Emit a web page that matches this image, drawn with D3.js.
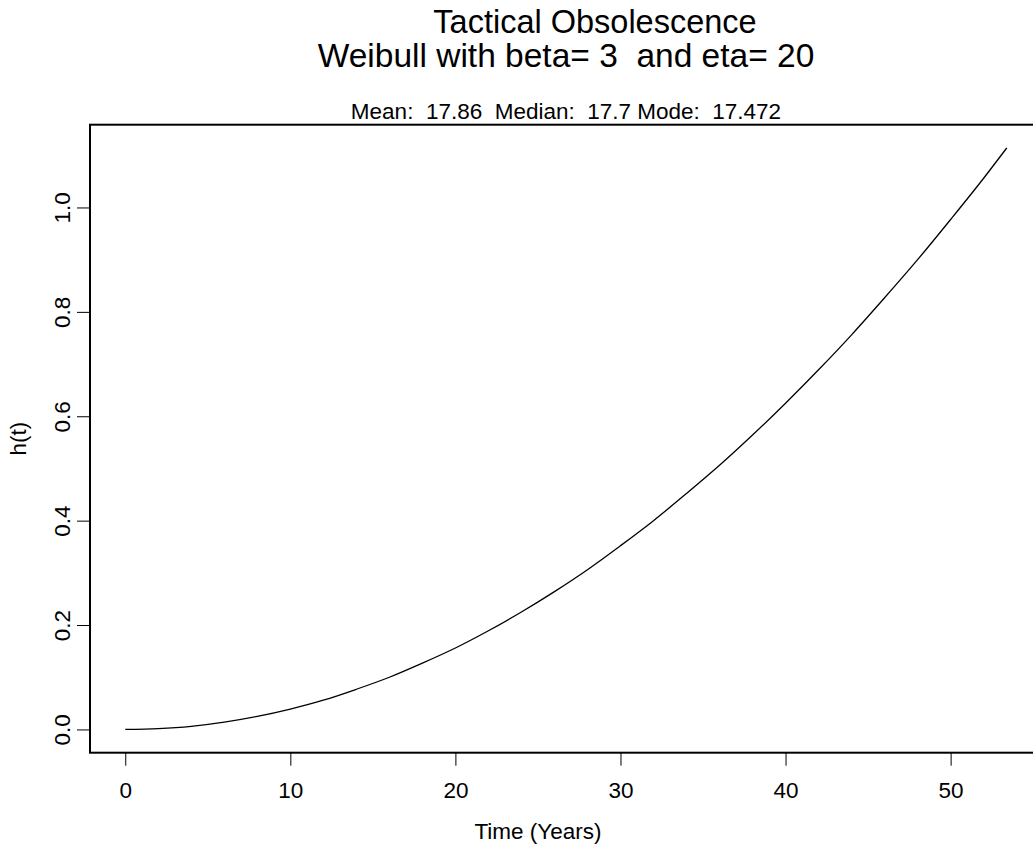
<!DOCTYPE html>
<html>
<head>
<meta charset="utf-8">
<script src="https://cdn.jsdelivr.net/npm/d3@7"></script>
<style>
  html, body { margin: 0; padding: 0; background: #fff; }
  svg { display: block; font-family: "Liberation Sans", Arial, Helvetica, sans-serif; }
  svg text { white-space: pre; }
</style>
</head>
<body>
<svg id="chart" width="1033" height="846"></svg>
<script>
// ---- data ----
const timeYears = [0, 2, 4, 6, 8, 10, 12, 14, 16, 18, 20, 22, 24, 26, 28, 30, 32, 34, 36, 38, 40, 42, 44, 46, 48, 50, 52, 53.4];
const hazard    = [0, 0.0016, 0.006, 0.014, 0.025, 0.039, 0.056, 0.077, 0.100, 0.127, 0.156, 0.189, 0.225, 0.264, 0.306, 0.352, 0.400, 0.452, 0.506, 0.564, 0.625, 0.689, 0.756, 0.827, 0.900, 0.977, 1.056, 1.114];
const xTicks = [0, 10, 20, 30, 40, 50];
const yTicks = [0.0, 0.2, 0.4, 0.6, 0.8, 1.0];
const titleLines = ["Tactical Obsolescence", "Weibull with beta= 3  and eta= 20"];
const subtitle = "Mean:  17.86  Median:  17.7 Mode:  17.472";
const xLabel = "Time (Years)";
const yLabel = "h(t)";

// ---- layout ----
const plot = { left: 90, right: 1042, top: 124.7, bottom: 752.7 };
const svg = d3.select("#chart");

const xMax = d3.max(timeYears), yMax = d3.max(hazard);
const x = d3.scaleLinear().domain([-0.04 * xMax, 1.04 * xMax]).range([plot.left, plot.right]);
const y = d3.scaleLinear().domain([-0.04 * yMax, 1.04 * yMax]).range([plot.bottom, plot.top]);

// curve
const pts = timeYears.map((t, i) => [t, hazard[i]]);
svg.append("path")
  .datum(pts)
  .attr("fill", "none")
  .attr("stroke", "#000")
  .attr("stroke-width", 1.3)
  .attr("d", d3.line().x(d => x(d[0])).y(d => y(d[1])).curve(d3.curveMonotoneX));

// box
svg.append("rect")
  .attr("x", plot.left).attr("y", plot.top)
  .attr("width", plot.right - plot.left).attr("height", plot.bottom - plot.top)
  .attr("fill", "none").attr("stroke", "#000").attr("stroke-width", 2);

// x axis
const xAxis = d3.axisBottom(x).tickValues(xTicks).tickSize(13).tickPadding(16).tickFormat(d3.format("d"));
const gx = svg.append("g").attr("transform", `translate(0,${plot.bottom})`).call(xAxis);
gx.select(".domain").remove();
gx.selectAll("line").attr("stroke", "#000").attr("stroke-width", 1);
gx.selectAll("text").attr("font-size", 22.5).attr("fill", "#000")
  .attr("font-family", "Liberation Sans, Arial, sans-serif");

// y axis
const yAxis = d3.axisLeft(y).tickValues(yTicks).tickSize(13).tickPadding(0).tickFormat(d3.format(".1f"));
const gy = svg.append("g").attr("transform", `translate(${plot.left},0)`).call(yAxis);
gy.select(".domain").remove();
gy.selectAll("line").attr("stroke", "#000").attr("stroke-width", 1);
gy.selectAll("text")
  .attr("font-size", 22.5).attr("fill", "#000")
  .attr("font-family", "Liberation Sans, Arial, sans-serif")
  .attr("x", null).attr("dy", null)
  .attr("text-anchor", "middle")
  .attr("transform", "translate(-20,0) rotate(-90)");

// axis titles
svg.append("text").attr("x", (x(0) + x(50)) / 2 + 0).attr("y", 839)
  .attr("text-anchor", "middle").attr("font-size", 22.5).text(xLabel);
svg.append("text")
  .attr("transform", `translate(26,${(plot.top + plot.bottom) / 2}) rotate(-90)`)
  .attr("text-anchor", "middle").attr("font-size", 22.5).text(yLabel);

// titles
const cx = (plot.left + plot.right) / 2;
svg.append("text").attr("x", cx + 29).attr("y", 33).attr("text-anchor", "middle")
  .attr("font-size", 32.5).text(titleLines[0]);
svg.append("text").attr("x", cx).attr("y", 67).attr("text-anchor", "middle")
  .attr("font-size", 33.5).text(titleLines[1]);
svg.append("text").attr("x", cx).attr("y", 119).attr("text-anchor", "middle")
  .attr("font-size", 22.5).text(subtitle);
</script>
</body>
</html>
